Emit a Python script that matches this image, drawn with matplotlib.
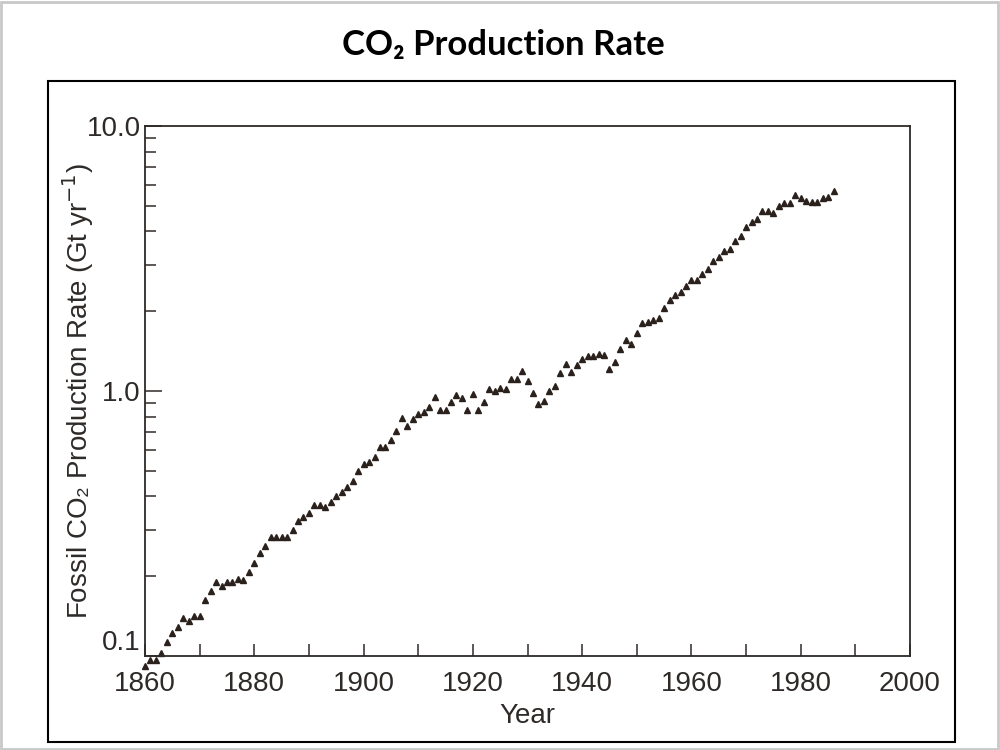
import numpy as np
import matplotlib.pyplot as plt
from matplotlib.patches import Rectangle
from matplotlib.ticker import FixedLocator, FixedFormatter, LogLocator, NullFormatter

years = list(range(1860, 1987))
rate = [
    0.092, 0.097, 0.097, 0.103, 0.113, 0.122, 0.129, 0.139, 0.135, 0.141,
    0.142, 0.163, 0.176, 0.190, 0.183, 0.190, 0.190, 0.196, 0.194, 0.207,
    0.224, 0.245, 0.260, 0.281, 0.281, 0.281, 0.281, 0.299, 0.323, 0.334,
    0.347, 0.370, 0.370, 0.365, 0.380, 0.402, 0.416, 0.434, 0.457, 0.499,
    0.531, 0.540, 0.564, 0.615, 0.615, 0.653, 0.706, 0.791, 0.738, 0.784,
    0.819, 0.833, 0.870, 0.949, 0.847, 0.847, 0.908, 0.966, 0.942, 0.847,
    0.974, 0.847, 0.908, 1.017, 1.000, 1.030, 1.020, 1.110, 1.110, 1.190,
    1.090, 0.980, 0.894, 0.920, 1.000, 1.045, 1.170, 1.265, 1.180, 1.250,
    1.320, 1.360, 1.350, 1.380, 1.370, 1.210, 1.290, 1.440, 1.560, 1.500,
    1.660, 1.810, 1.820, 1.850, 1.880, 2.050, 2.200, 2.300, 2.370, 2.490,
    2.620, 2.620, 2.770, 2.880, 3.090, 3.200, 3.390, 3.440, 3.680, 3.850,
    4.160, 4.350, 4.460, 4.770, 4.770, 4.700, 4.990, 5.120, 5.120, 5.500,
    5.350, 5.210, 5.160, 5.160, 5.350, 5.400, 5.690,
]

x_ticks = [1860, 1880, 1900, 1920, 1940, 1960, 1980, 2000]
y_ticks = [0.1, 1.0, 10.0]
y_ticklabels = ["0.1", "1.0", "10.0"]

ink = "#2e2a28"
plt.rcParams["font.family"] = ["Liberation Sans Narrow", "Liberation Sans", "DejaVu Sans"]

fig = plt.figure(figsize=(10, 7.5), dpi=100)

# page frame and inner box
fig.patches.append(Rectangle((0.001, 0.001), 0.997, 0.997, transform=fig.transFigure,
                             fill=False, edgecolor="#c8c8c8", linewidth=2))
fig.patches.append(Rectangle((0.048, 0.0107), 0.907, 0.881, transform=fig.transFigure,
                             fill=False, edgecolor="black", linewidth=1.5))

fig.text(0.503, 0.94, "CO\u2082 Production Rate", ha="center", va="center",
         fontsize=25, fontweight="bold", family=["Lato", "DejaVu Sans"])

ax = fig.add_axes([0.145, 0.1253, 0.765, 0.7067])
ax.plot(years, rate, linestyle="none", marker="^", markersize=5,
        color="#2b211c", clip_on=False)

ax.set_yscale("log")
ax.set_xlim(1860, 2000)
ax.set_ylim(0.1, 10)

ax.xaxis.set_major_locator(FixedLocator(x_ticks))
ax.xaxis.set_minor_locator(FixedLocator(list(range(1870, 2000, 20))))
ax.yaxis.set_major_locator(FixedLocator(y_ticks))
ax.yaxis.set_major_formatter(FixedFormatter(y_ticklabels))
ax.yaxis.set_minor_locator(LogLocator(base=10, subs=np.arange(2, 10)))
ax.yaxis.set_minor_formatter(NullFormatter())

ax.tick_params(axis="both", which="both", direction="in", colors=ink,
               labelsize=20, top=False, right=False)
ax.tick_params(axis="x", which="both", length=9, width=1.1, pad=11)
ax.tick_params(axis="y", which="major", length=12, width=1.1, pad=3)
ax.tick_params(axis="y", which="minor", length=8, width=1.1)
for lbl in ax.get_yticklabels():
    if lbl.get_text() == "0.1":
        lbl.set_va("bottom")

for s in ax.spines.values():
    s.set_color(ink)
    s.set_linewidth(1.3)

ax.set_xlabel("Year", fontsize=20, color=ink, labelpad=4)
ax.set_ylabel("Fossil CO\u2082 Production Rate (Gt yr$^{-1}$)", fontsize=20, color=ink)
ax.yaxis.set_label_coords(-0.064, 0.5)

fig.savefig("out.png", dpi=100)
